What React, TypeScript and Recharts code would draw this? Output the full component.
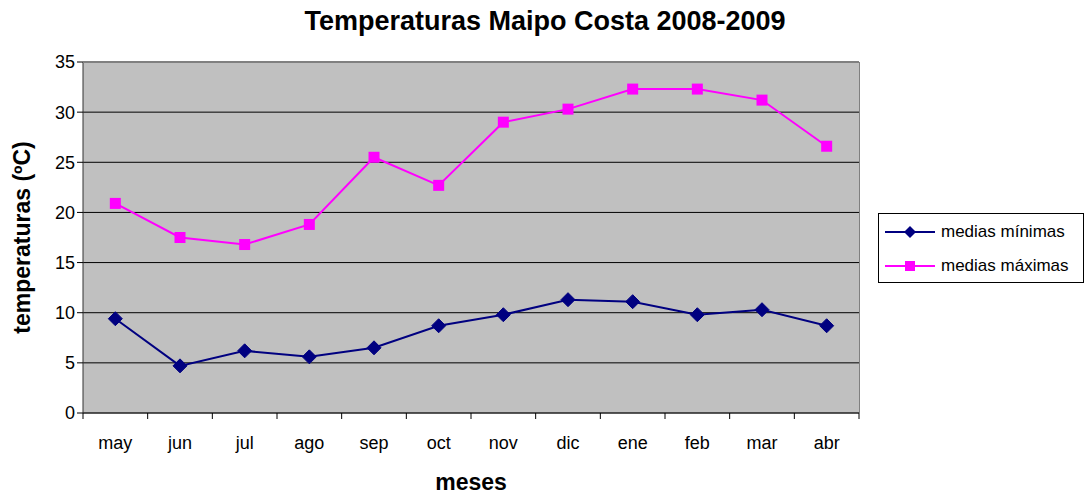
import React from 'react';
import { LineChart, Line, XAxis, YAxis, CartesianGrid } from 'recharts';

const months = ['may', 'jun', 'jul', 'ago', 'sep', 'oct', 'nov', 'dic', 'ene', 'feb', 'mar', 'abr'];
const mediasMinimas = [9.4, 4.7, 6.2, 5.6, 6.5, 8.7, 9.8, 11.3, 11.1, 9.8, 10.3, 8.7];
const mediasMaximas = [20.9, 17.5, 16.8, 18.8, 25.5, 22.7, 29.0, 30.3, 32.3, 32.3, 31.2, 26.6];
const yTicks = [0, 5, 10, 15, 20, 25, 30, 35];

const data = months.map((m, i) => ({ mes: m, min: mediasMinimas[i], max: mediasMaximas[i] }));

const W = 1090;
const H = 494;
const X_H = 81;
const Y_W = 83;
const M = { top: 62, right: 231, bottom: 0, left: 0 };
const PLOT_W = W - Y_W - M.right;
const PLOT_H = H - M.top - X_H;
const BAND = PLOT_W / months.length;
const FONT = '"Liberation Sans", Arial, sans-serif';
const NAVY = '#000080';
const MAGENTA = '#FF00FF';

function Diamond(props: any) {
  const { cx, cy, index } = props;
  if (cx == null || cy == null) return null;
  const r = 7;
  return (
    <path
      key={'d' + index}
      d={`M${cx},${cy - r}L${cx + r},${cy}L${cx},${cy + r}L${cx - r},${cy}Z`}
      fill={NAVY}
      stroke={NAVY}
    />
  );
}

function Square(props: any) {
  const { cx, cy, index } = props;
  if (cx == null || cy == null) return null;
  const s = 5.5;
  return <rect key={'s' + index} x={cx - s} y={cy - s} width={s * 2} height={s * 2} fill={MAGENTA} />;
}

function MonthTick(props: any) {
  const { x, payload, index } = props;
  const base = M.top + PLOT_H;
  const last = index === months.length - 1;
  return (
    <g>
      <line x1={x - BAND / 2} x2={x - BAND / 2} y1={base} y2={base + 6} stroke="#000" />
      {last && <line x1={x + BAND / 2} x2={x + BAND / 2} y1={base} y2={base + 6} stroke="#000" />}
      <text x={x} y={base + 36} textAnchor="middle" fontSize={18} fontFamily={FONT} fill="#000">
        {payload.value}
      </text>
    </g>
  );
}

function LegendBox() {
  const rows = [
    { label: 'medias mínimas', color: NAVY, kind: 'd' },
    { label: 'medias máximas', color: MAGENTA, kind: 's' },
  ];
  return (
    <div
      style={{
        position: 'absolute',
        left: 878,
        top: 213,
        width: 206,
        height: 70,
        border: '1px solid #000',
        background: '#fff',
        boxSizing: 'border-box',
        fontFamily: FONT,
        fontSize: 17,
        color: '#000',
      }}
    >
      {rows.map((r, i) => (
        <div key={r.label} style={{ display: 'flex', alignItems: 'center', height: 34, paddingTop: i === 0 ? 1 : 0 }}>
          <svg width={52} height={16} style={{ marginLeft: 6 }}>
            <line x1={0} x2={50} y1={8} y2={8} stroke={r.color} strokeWidth={2} />
            {r.kind === 'd' ? (
              <path d="M25,2L31,8L25,14L19,8Z" fill={r.color} />
            ) : (
              <rect x={20} y={3} width={10} height={10} fill={r.color} />
            )}
          </svg>
          <span style={{ marginLeft: 4 }}>{r.label}</span>
        </div>
      ))}
    </div>
  );
}

export default function App() {
  return (
    <div style={{ position: 'absolute', left: 0, top: 0, width: W, height: H, background: '#fff' }}>
      <div
        style={{
          position: 'absolute',
          left: 0,
          top: 6,
          width: W,
          textAlign: 'center',
          fontFamily: FONT,
          fontWeight: 'bold',
          fontSize: 27,
        }}
      >
        Temperaturas Maipo Costa 2008-2009
      </div>
      <LineChart width={W} height={H} data={data} margin={M}>
        <CartesianGrid vertical={false} fill="#C0C0C0" stroke="#000" strokeOpacity={1} />
        <XAxis
          dataKey="mes"
          interval={0}
          tickLine={false}
          axisLine={{ stroke: '#333' }}
          tick={<MonthTick />}
          height={X_H}
          padding={{ left: BAND / 2, right: BAND / 2 }}
          label={{
            value: 'meses',
            position: 'insideBottom',
            offset: 0,
            dy: -4,
            style: { fontFamily: FONT, fontWeight: 'bold', fontSize: 23, fill: '#000' },
          }}
        />
        <YAxis
          width={Y_W}
          domain={[0, 35]}
          ticks={yTicks}
          interval={0}
          tickSize={6}
          tickLine={{ stroke: '#000' }}
          axisLine={{ stroke: '#333' }}
          tick={{ fontSize: 18, fontFamily: FONT, fill: '#000' }}
          label={{
            value: 'temperaturas (ºC)',
            angle: -90,
            position: 'insideLeft',
            offset: 22,
            style: { textAnchor: 'middle', fontFamily: FONT, fontWeight: 'bold', fontSize: 23, fill: '#000' },
          }}
        />
        <Line
          dataKey="min"
          name="medias mínimas"
          stroke={NAVY}
          strokeWidth={2}
          dot={<Diamond />}
          isAnimationActive={false}
        />
        <Line
          dataKey="max"
          name="medias máximas"
          stroke={MAGENTA}
          strokeWidth={2}
          dot={<Square />}
          isAnimationActive={false}
        />
      </LineChart>
      <div
        style={{
          position: 'absolute',
          left: Y_W,
          top: M.top,
          width: PLOT_W + 1,
          height: PLOT_H,
          boxSizing: 'border-box',
          borderTop: '1px solid #808080',
          borderRight: '1px solid #808080',
          pointerEvents: 'none',
        }}
      />
      <LegendBox />
    </div>
  );
}
